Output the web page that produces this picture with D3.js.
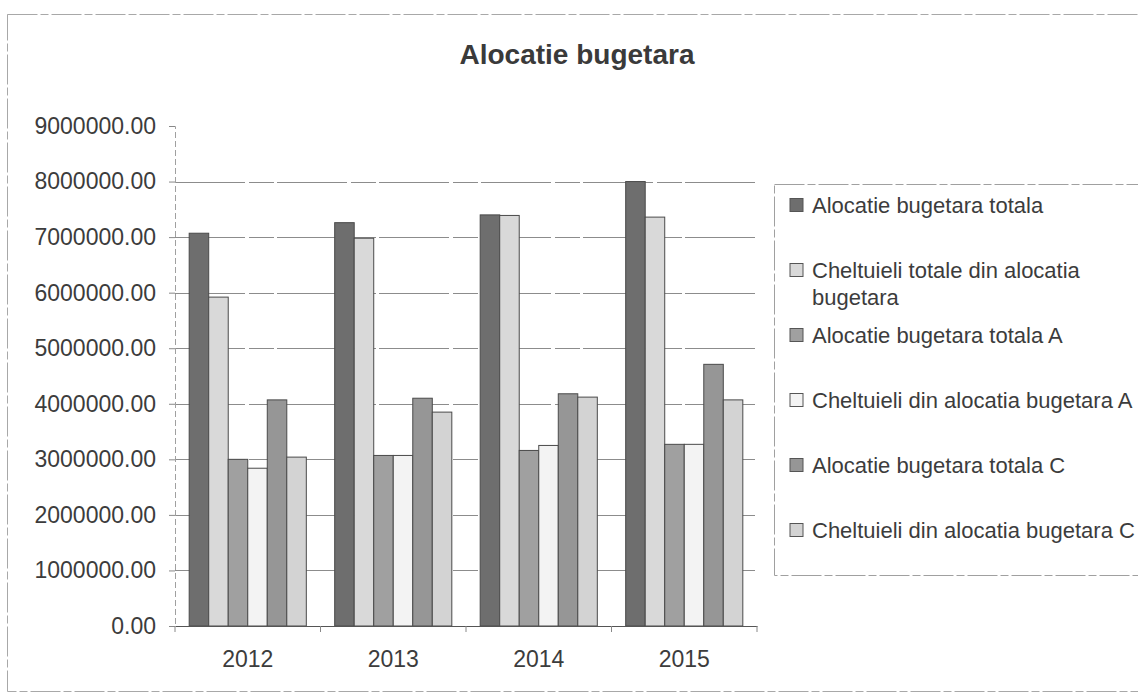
<!DOCTYPE html>
<html>
<head>
<meta charset="utf-8">
<script src="https://cdn.jsdelivr.net/npm/d3@7/dist/d3.min.js"></script>
<style>
  html, body { margin: 0; padding: 0; background: #ffffff; }
  svg { display: block; font-family: "Liberation Sans", Arial, sans-serif; }
</style>
</head>
<body>
<svg id="chart" width="1138" height="697"></svg>
<script>
// ---- data ----
const title = "Alocatie bugetara";
const years = ["2012", "2013", "2014", "2015"];
const seriesNames = [
  "Alocatie bugetara totala",
  "Cheltuieli totale din alocatia bugetara",
  "Alocatie bugetara totala A",
  "Cheltuieli din alocatia bugetara A",
  "Alocatie bugetara totala C",
  "Cheltuieli din alocatia bugetara C"
];
const alocatieTotala   = [7070000, 7260000, 7400000, 8000000];
const cheltuieliTotale = [5920000, 6980000, 7390000, 7360000];
const alocatieA        = [3000000, 3070000, 3160000, 3270000];
const cheltuieliA      = [2840000, 3070000, 3250000, 3270000];
const alocatieC        = [4070000, 4100000, 4180000, 4710000];
const cheltuieliC      = [3040000, 3850000, 4120000, 4070000];
const yTicks = [0, 1000000, 2000000, 3000000, 4000000, 5000000, 6000000, 7000000, 8000000, 9000000];

const seriesValues = [alocatieTotala, cheltuieliTotale, alocatieA, cheltuieliA, alocatieC, cheltuieliC];
const colors = ["#6e6e6e", "#d9d9d9", "#a0a0a0", "#f3f3f3", "#969696", "#d3d3d3"];

// ---- layout ----
const svg = d3.select("#chart");
const plot = { left: 175, right: 757, top: 126, bottom: 626 };

// outer chart border
svg.append("rect")
  .attr("x", 7.5).attr("y", 14.5).attr("width", 1140).attr("height", 677)
  .attr("fill", "none").attr("stroke", "#a8a8a8").attr("stroke-width", 1)
  .attr("stroke-dasharray", "30,3,8,3");

// title
svg.append("text")
  .attr("x", 577).attr("y", 64)
  .attr("text-anchor", "middle")
  .attr("font-size", 28).attr("font-weight", "bold")
  .attr("fill", "#3a3a3a")
  .text(title);

const x0 = d3.scaleBand().domain(years).range([plot.left, plot.right]).paddingInner(0.195).paddingOuter(0.0975);
const x1 = d3.scaleBand().domain(d3.range(seriesNames.length)).range([0, x0.bandwidth()]);
const y = d3.scaleLinear().domain([0, 9000000]).range([plot.bottom, plot.top]);

// gridlines (none at the top value)
svg.append("g")
  .selectAll("line").data(yTicks.filter(d => d > 0 && d < 9000000)).join("line")
  .attr("x1", plot.left).attr("x2", plot.right)
  .attr("y1", d => Math.round(y(d)) + 0.5).attr("y2", d => Math.round(y(d)) + 0.5)
  .attr("stroke", "#8c8c8c").attr("stroke-width", 1)
  .attr("stroke-dasharray", "70,4,25,3");

// y axis
const yAxis = svg.append("g")
  .attr("transform", `translate(${plot.left},0)`)
  .call(d3.axisLeft(y).tickValues(yTicks).tickFormat(d3.format(".2f")).tickSize(6).tickPadding(13));
yAxis.select(".domain").attr("stroke", "#a0a0a0").attr("stroke-dasharray", "6,3");
yAxis.selectAll(".tick line").attr("stroke", "#888");
yAxis.selectAll(".tick text")
  .attr("font-size", 23).attr("fill", "#3c3c3c")
  .attr("font-family", "'Liberation Sans', Arial, sans-serif");

// bars
const groups = svg.append("g").selectAll("g").data(years).join("g")
  .attr("transform", d => `translate(${x0(d)},0)`);
groups.selectAll("rect")
  .data((d, i) => seriesValues.map((vals, s) => ({ s, v: vals[i] })))
  .join("rect")
  .attr("x", d => x1(d.s))
  .attr("width", x1.bandwidth())
  .attr("y", d => y(d.v))
  .attr("height", d => y(0) - y(d.v))
  .attr("fill", d => colors[d.s])
  .attr("stroke", "#4a4a4a").attr("stroke-width", 1);

// x axis
const xAxisScale = d3.scaleBand().domain(years).range([plot.left, plot.right]);
const xAxis = svg.append("g")
  .attr("transform", `translate(0,${plot.bottom})`)
  .call(d3.axisBottom(xAxisScale).tickSize(0).tickPadding(25));
xAxis.select(".domain").attr("stroke", "#555");
xAxis.selectAll(".tick text")
  .attr("font-size", 23).attr("fill", "#3c3c3c")
  .attr("font-family", "'Liberation Sans', Arial, sans-serif");
// category boundary ticks
svg.append("g").selectAll("line")
  .data(years.map(d => xAxisScale(d)).concat([plot.right]))
  .join("line")
  .attr("x1", d => d).attr("x2", d => d)
  .attr("y1", plot.bottom).attr("y2", plot.bottom + 6)
  .attr("stroke", "#888");

// legend
const legend = svg.append("g");
legend.append("rect")
  .attr("x", 774.5).attr("y", 184.5).attr("width", 400).attr("height", 391)
  .attr("fill", "#ffffff").attr("stroke", "#a0a0a0")
  .attr("stroke-dasharray", "30,3,8,3");
const items = legend.selectAll("g.item").data(seriesNames).join("g")
  .attr("class", "item")
  .attr("transform", (d, i) => `translate(790,${205 + i * 65})`);
items.append("rect")
  .attr("x", 0).attr("y", -6.5).attr("width", 13).attr("height", 13)
  .attr("fill", (d, i) => colors[i]).attr("stroke", "#555");
items.append("text")
  .attr("x", 22).attr("y", 0).attr("dy", "0.35em")
  .attr("font-size", 22).attr("fill", "#3c3c3c")
  .each(function(d) {
    const t = d3.select(this);
    const words = d.split(" ");
    let line = [];
    let tspan = t.append("tspan").attr("x", 22);
    for (const w of words) {
      line.push(w);
      tspan.text(line.join(" "));
      if (tspan.node().getComputedTextLength() > 330 && line.length > 1) {
        line.pop();
        tspan.text(line.join(" "));
        line = [w];
        tspan = t.append("tspan").attr("x", 22).attr("dy", 27).text(w);
      }
    }
  });
</script>
</body>
</html>
